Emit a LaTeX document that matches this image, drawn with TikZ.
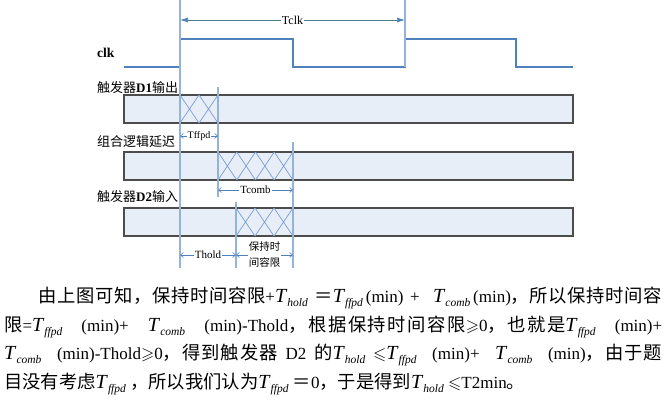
\documentclass[tikz,border=0pt]{standalone}
\usepackage{fontspec}
\usepackage{amssymb}
\setmainfont{Liberation Serif}
\newfontfamily\cjk{Noto Sans CJK SC}
\usetikzlibrary{arrows.meta}
\definecolor{wave}{HTML}{4F81BD}
\definecolor{guide}{HTML}{95B3D7}
\definecolor{barfill}{HTML}{E8EEF8}
\definecolor{hatch}{HTML}{7A9CD3}
\definecolor{tclkline}{HTML}{4A7E8C}
\newcount\cjkcode
\cjkcode="4E00
\loop
  \XeTeXcharclass\cjkcode=1
  \advance\cjkcode by 1
\ifnum\cjkcode<"A000 \repeat
\XeTeXcharclass"FF0C=3
\XeTeXcharclass"3002=3
\XeTeXcharclass"FF1D=3
\XeTeXinterchartoks 1 1 = {\hskip 0pt plus 0.3fil}
\XeTeXinterchartoks 1 3 = {\hskip 0pt plus 0.3fil}
\XeTeXinterchartoks 3 1 = {\hskip 0pt plus 0.3fil}
\newcommand{\spreadon}{\XeTeXinterchartokenstate=1\relax\spaceskip=4.3pt plus 1fil\relax\xspaceskip=\spaceskip}
\newcommand{\Tsb}[1]{{\fontsize{20}{20}\selectfont\textit{T}}\raisebox{-0.55ex}{\fontsize{11.5}{11.5}\selectfont\textit{#1}}}
\newcommand{\cj}[1]{{\fontsize{18.3}{20}\selectfont\cjk #1}}
\begin{document}
\begin{tikzpicture}[x=1pt,y=-1pt,
    wave/.style={draw=wave, line width=1.4pt},
    guide/.style={draw=guide, line width=1.8pt},
    bar/.style={draw=black!70, line width=1.2pt, fill=barfill},
    hatch/.style={draw=hatch, line width=0.7pt},
    dimarr/.style={draw=wave, line width=0.6pt, {Straight Barb[length=3pt,width=5pt]}-{Straight Barb[length=3pt,width=5pt]}},
    dimlbl/.style={fill=white, inner sep=1pt, font=\fontsize{11}{12}\selectfont},
    lbl/.style={anchor=west, inner sep=0pt, font=\fontsize{13}{15}\selectfont\cjk},
    txtline/.style={anchor=base west, inner sep=0pt, font=\fontsize{17}{20}\selectfont}]
    \useasboundingbox (0,0) rectangle (672,406);
    \coordinate (e1) at (180,0);
    \coordinate (e2) at (218,0);
    \coordinate (e3) at (236,0);
    \coordinate (e4) at (293,0);
    \coordinate (e5) at (405,0);
    \draw[bar] (124,95) rectangle (573,123);
    \draw[bar] (124,152) rectangle (573,180);
    \draw[bar] (124,208) rectangle (573,236);
    \foreach \xa/\n/\w/\ya/\yb in {180/1/19/95/123, 218/3/18.75/152/180, 236/2/19/208/236}
        \foreach \i in {0,...,\n}
            \draw[hatch] (\xa+\i*\w,\ya) -- (\xa+\i*\w+\w,\yb) (\xa+\i*\w,\yb) -- (\xa+\i*\w+\w,\ya);
    \draw[wave] (124,67) -- (180,67) -- (180,39) -- (293,39) -- (293,67) -- (405,67) -- (405,39) -- (516,39) -- (516,67) -- (573,67);
    \draw[guide] (e1) -- (e1 |- 0,268);
    \draw[guide] (e5) -- (e5 |- 0,67);
    \draw[guide] (e2 |- 0,87) -- (e2 |- 0,197);
    \draw[guide] (e4 |- 0,142) -- (e4 |- 0,268);
    \draw[guide] (e3 |- 0,202) -- (e3 |- 0,268);
    \draw[draw=tclkline, line width=0.7pt, {Latex[length=8pt,width=5pt,color=wave]}-{Latex[length=8pt,width=5pt,color=wave]}] (e1 |- 0,20) -- node[dimlbl, font=\fontsize{12}{13}\selectfont] (tclk) {Tclk} (e5 |- 0,20);
    \draw[dimarr] (e1 |- 0,136) -- node[dimlbl, font=\fontsize{10}{11}\selectfont] (tffpd) {Tffpd} (e2 |- 0,136);
    \draw[dimarr] (e2 |- 0,190) -- node[dimlbl] (tcomb) {Tcomb} (e4 |- 0,190);
    \draw[dimarr] (e1 |- 0,255) -- node[dimlbl] (thold) {Thold} (e3 |- 0,255);
    \draw[dimarr] (e3 |- 0,255) -- node[dimlbl, align=center, font=\fontsize{10.5}{16}\selectfont\cjk] (margin) {保持时\\间容限} (e4 |- 0,255);
    \node[lbl, font=\fontsize{13.5}{15}\selectfont\bfseries] (clk) at (97,53) {clk};
    \node[lbl] (d1) at (97,88) {触发器{\rmfamily\bfseries D1}输出};
    \node[lbl] (comb) at (97,142) {组合逻辑延迟};
    \node[lbl] (d2) at (97,197) {触发器{\rmfamily\bfseries D2}输入};
    \node[txtline] (l1) at (38,302) {\spreadon\hbox to 624pt{\cj{由上图可知，保持时间容限}+\Tsb{hold} \cj{＝}\Tsb{ffpd}\,(min) + \ \Tsb{comb}\,(min)\cj{，所以保持时间容}}};
    \node[txtline] (l2) at (4,331) {\spreadon\hbox to 658pt{\cj{限}=\Tsb{ffpd} \ (min)+ \ \Tsb{comb} \ (min)-Thold\cj{，根据保持时间容限}$\geqslant$0\cj{，也就是}\Tsb{ffpd} \ (min)+}};
    \node[txtline] (l3) at (4,359) {\spreadon\hbox to 658pt{\Tsb{comb} \ (min)-Thold$\geqslant$0\cj{，得到触发器} D2 \cj{的}\Tsb{hold} $\leqslant$\Tsb{ffpd} \ (min)+ \ \Tsb{comb} \ (min)\cj{，由于题}}};
    \node[txtline] (l4) at (4,388) {\spreadon\cj{目没有考虑}\Tsb{ffpd}\ \cj{，所以我们认为}\Tsb{ffpd} \cj{＝}0\cj{，于是得到}\Tsb{hold} $\leqslant$T2min\cj{。}};
\end{tikzpicture}
\end{document}
